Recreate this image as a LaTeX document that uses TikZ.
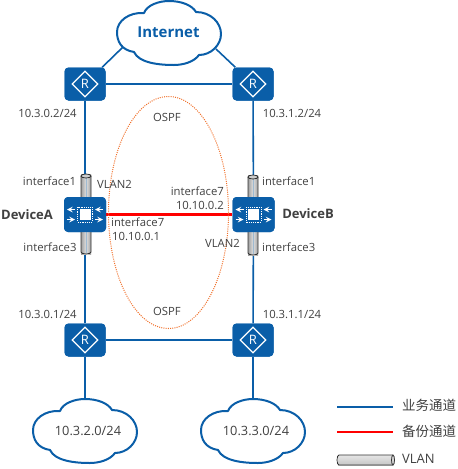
\documentclass[tikz,border=0pt]{standalone}
\usepackage{fontspec}
\setmainfont{Open Sans}
\newfontfamily\cjkf{Noto Sans CJK SC}
\usetikzlibrary{shapes.geometric}
\definecolor{hwblue}{HTML}{0A5EA8}
\definecolor{txt}{HTML}{404040}
\definecolor{osp}{HTML}{F0702A}
\tikzset{
 x=1pt,y=-1pt,
 rtr/.style={rectangle,rounded corners=4pt,fill=hwblue,minimum width=41pt,minimum height=33pt,inner sep=0pt},
 rdiam/.style={diamond,draw=white,line width=1.2pt,minimum width=26pt,minimum height=26pt,inner sep=0pt,text=white,font=\fontsize{13}{13}\selectfont},
 sw/.style={rectangle,rounded corners=4pt,fill=hwblue,minimum width=42pt,minimum height=35pt,inner sep=0pt},
 lbl/.style={text=txt,font=\fontsize{11.3}{13}\selectfont,inner sep=0pt},
 bold/.style={text=txt,font=\fontsize{13}{15}\selectfont\bfseries,inner sep=0pt},
 cl/.style={rectangle,minimum width=105pt,minimum height=65pt,inner sep=0pt},
 link/.style={draw=hwblue,line width=1.6pt},
 red/.style={draw=red,line width=2.2pt},
 cloudline/.style={draw=hwblue,line width=2pt,fill=white,line join=round},
 pics/cloudshape/.style={code={
  \path[cloudline] (-35,19) .. controls (-48,17) and (-52,8) .. (-52,-1)
   .. controls (-52,-12) and (-40,-21) .. (-25,-20)
   .. controls (-22,-28) and (-10,-32) .. (0,-32)
   .. controls (12,-32) and (23,-28) .. (27,-21)
   .. controls (42,-21) and (52,-10) .. (52,1)
   .. controls (52,12) and (42,22) .. (30,22)
   .. controls (25,29) and (14,32) .. (5,32)
   .. controls (-10,32) and (-30,30) .. (-35,19) -- cycle;
 }},
 pics/vcyl/.style={code={
  \path[left color=gray!75,right color=gray!75,middle color=gray!25] (-5,-40) rectangle (5,40);
  \draw[hwblue!70,line width=1pt,opacity=.45] (0,-39) -- (0,39);
  \draw[black!80,line width=.8pt] (-5,-38) -- (-5,38) arc[start angle=180,end angle=360,x radius=5,y radius=-2] -- (5,-38);
  \draw[black!80,line width=.8pt,fill=gray!40] (0,-38) ellipse[x radius=5,y radius=2];
 }},
 pics/swicon/.style={code={
  \fill[white] (-5.5,-5.5) rectangle (5.5,5.5);
  \draw[white,line width=1pt,dash pattern=on 1.2pt off 1pt] (-7.5,-7.5) rectangle (7.5,7.5);
  \draw[white,line width=1.5pt,-stealth] (-10,-5) -- (-18,-5);
  \draw[white,line width=1.5pt,-stealth] (-18,5) -- (-10,5);
  \draw[white,line width=1.5pt,-stealth] (18,-5) -- (10,-5);
  \draw[white,line width=1.5pt,-stealth] (10,5) -- (18,5);
 }},
}
\begin{document}
\begin{tikzpicture}
\useasboundingbox (0,0) rectangle (458,469);
\node[cl] (inet) at (169,33) {};
\node[cl] (c1) at (85,431) {};
\node[cl] (c2) at (253,431) {};
\coordinate (inetL) at (123,47);
\coordinate (inetR) at (216,49);
\node[rtr] (r1) at (85,84) {};
\node[rtr] (r2) at (253,84) {};
\node[rtr] (r3) at (85,340) {};
\node[rtr] (r4) at (253,340) {};
\node[sw] (sa) at (85,214.5) {};
\node[sw] (sb) at (253.5,214.5) {};
\draw[link] (r1) -- (inetL);
\draw[link] (r2) -- (inetR);
\draw[link] (r1) -- (r2);
\draw[link] (r3) -- (r4);
\draw[link] (r1) -- (sa);
\draw[link] (r2) -- (sb.center);
\draw[link] (r3) -- (sa);
\draw[link] (r4) -- (sb.center);
\draw[link] (r3) -- (c1.north);
\draw[link] (r4) -- (c2.north);
\draw[red] (sa) -- (sb);
\pic at (inet) {cloudshape};
\pic at (c1) {cloudshape};
\pic at (c2) {cloudshape};
\pic at (86,214) {vcyl};
\pic at (253,215) {vcyl};
\node[rtr] (r1b) at (r1) {};
\node[rtr] (r2b) at (r2) {};
\node[rtr] (r3b) at (r3) {};
\node[rtr] (r4b) at (r4) {};
\node[sw] (sab) at (sa) {};
\node[sw] (sbb) at (sb) {};
\node[rdiam] (d1) at (r1) {R};
\node[rdiam] (d2) at (r2) {R};
\node[rdiam] (d3) at (r3) {R};
\node[rdiam] (d4) at (r4) {R};
\pic at (sa) {swicon};
\pic at (sb) {swicon};
\node[ellipse,draw=osp,line width=1pt,dash pattern=on 1pt off 1.2pt,minimum width=120pt,minimum height=232pt,inner sep=0pt] (area) at (168.5,212.5) {};
\node[inner sep=0pt,text=hwblue,font=\fontsize{15}{17}\selectfont\bfseries] (tinet) at (168.5,32) {Internet};
\node[lbl] (t1) at (47.5,113) {10.3.0.2/24};
\node[lbl] (t2) at (292,113) {10.3.1.2/24};
\node[lbl] (t3) at (167,117) {OSPF};
\node[lbl] (t4) at (167,311) {OSPF};
\node[lbl] (t5) at (49.5,181) {interface1};
\node[lbl] (t6) at (114.5,184) {VLAN2};
\node[bold] (t7) at (27,215) {DeviceA};
\node[lbl] (t8) at (50,247) {interface3};
\node[lbl,anchor=west] (t9) at (111,222) {interface7};
\node[lbl,anchor=west] (t10) at (112,236) {10.10.0.1};
\node[lbl,anchor=east] (t11) at (224,191) {interface7};
\node[lbl,anchor=east] (t12) at (224,205) {10.10.0.2};
\node[lbl] (t13) at (222.5,243) {VLAN2};
\node[lbl,anchor=west] (t14) at (262,181) {interface1};
\node[lbl,anchor=west] (t15) at (262,247) {interface3};
\node[bold] (t16) at (308,214) {DeviceB};
\node[lbl] (t17) at (47.5,314) {10.3.0.1/24};
\node[lbl] (t18) at (292,314) {10.3.1.1/24};
\node[lbl,font=\fontsize{12.8}{15}\selectfont] (t19) at (88,431) {10.3.2.0/24};
\node[lbl,font=\fontsize{12.8}{15}\selectfont] (t20) at (256,431) {10.3.3.0/24};
\coordinate (l1a) at (337,407); \coordinate (l1b) at (393,407);
\coordinate (l2a) at (337,432); \coordinate (l2b) at (393,432);
\draw[link] (l1a) -- (l1b);
\draw[red] (l2a) -- (l2b);
\path[top color=gray!20,bottom color=gray!45] (338,455) rectangle (393,465);
\draw[black!80,line width=.8pt] (393,455) -- (339,455) arc[start angle=90,end angle=270,x radius=2,y radius=-5] -- (393,465);
\draw[black!80,line width=.8pt,fill=gray!30] (393,460) ellipse[x radius=1.5,y radius=5];
\node[lbl,anchor=west,font=\fontsize{13.5}{15}\cjkf] (t21) at (402,405) {业务通道};
\node[lbl,anchor=west,font=\fontsize{13.5}{15}\cjkf] (t22) at (402,431) {备份通道};
\node[lbl,anchor=west,font=\fontsize{13}{15}\selectfont] (t23) at (402,459) {VLAN};
\end{tikzpicture}
\end{document}
